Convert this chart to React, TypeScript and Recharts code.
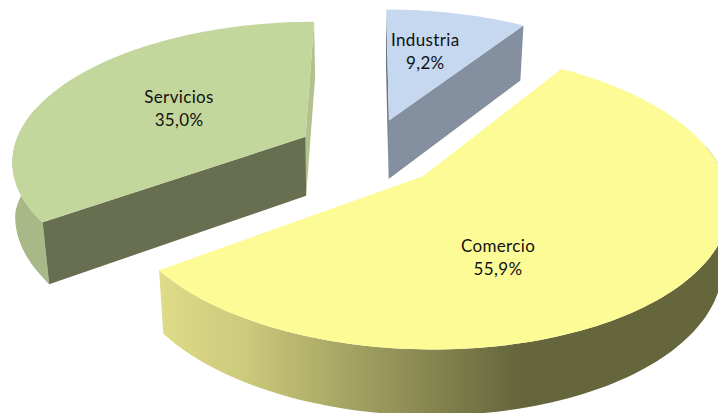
import React from 'react';
import { PieChart, Pie } from 'recharts';

const categories = ['Industria', 'Comercio', 'Servicios'];
const shares = [9.2, 55.9, 35.0];
const percentLabels = ['9,2%', '55,9%', '35,0%'];

const tableRows = categories.map((name, i) => ({ name, value: shares[i], text: percentLabels[i] }));

const W = 718;
const H = 413;
const CX = 369;
const CY = 152;
const OUTER = 293;
const UNIT = 279;
const VSCALE = 131;
const K = 0.15;
const EXPLODE = 0.26;
const WALL = 59.5;
const BOTTOM_SHRINK = 0.98;
const LABEL_RHO = 0.56;

const topColors: Record<string, string> = { Industria: '#C5D8F0', Comercio: '#FDFB96', Servicios: '#C3D69B' };
const rimColors: Record<string, string> = { Industria: '#A9B8CC', Comercio: 'url(#rimComercio)', Servicios: '#A8B886' };
const startFace: Record<string, string> = { Industria: '#6E7582', Comercio: 'none', Servicios: '#686F50' };
const endFace: Record<string, string> = { Industria: '#848F9F', Comercio: 'none', Servicios: '#B2C28E' };
const labelShift: Record<string, [number, number]> = { Industria: [-2, -9], Comercio: [-52, 24], Servicios: [3, 2] };

const rad = (d: number) => (d * Math.PI) / 180;

function project(u: number, v: number) {
  const w = 1 + K * v;
  return { x: CX + (UNIT * u) / w, y: CY - (VSCALE * v) / w, w, v };
}

function lower(p: { x: number; y: number; w: number; v: number }) {
  const shrink = BOTTOM_SHRINK + 0.014 * Math.max(0, 1 - Math.abs(p.v) / 0.45);
  return { x: CX + (p.x - CX) * shrink, y: p.y + WALL / Math.sqrt(p.w), w: p.w, v: p.v };
}

const toPath = (pts: { x: number; y: number }[]) =>
  'M' + pts.map((p) => `${p.x.toFixed(2)},${p.y.toFixed(2)}`).join('L') + 'Z';

function apexOf(mid: number) {
  return [EXPLODE * Math.cos(rad(mid)), EXPLODE * Math.sin(rad(mid))];
}

function Wedge(props: any) {
  const { startAngle, endAngle, midAngle, outerRadius, name } = props;
  const r = outerRadius / UNIT;
  const [ax, ay] = apexOf(midAngle);
  const apex = project(ax, ay);
  const n = Math.max(2, Math.ceil(Math.abs(endAngle - startAngle) / 1.5));
  const angles = Array.from({ length: n + 1 }, (_, i) => startAngle + ((endAngle - startAngle) * i) / n);
  const arc = angles.map((d) => project(ax + r * Math.cos(rad(d)), ay + r * Math.sin(rad(d))));
  const first = arc[0];
  const last = arc[arc.length - 1];
  let rimPath = '';
  for (let i = 0; i < n; i++) {
    if (Math.sin(rad(angles[i])) > 0.2 && Math.sin(rad(angles[i + 1])) > 0.2) continue;
    rimPath += toPath([arc[i], arc[i + 1], lower(arc[i + 1]), lower(arc[i])]);
  }
  const faceA = [apex, first, lower(first), lower(apex)];
  const faceB = [apex, last, lower(last), lower(apex)];
  return (
    <g>
      <defs>
        <linearGradient id="rimComercio" gradientUnits="userSpaceOnUse" x1={160} y1={0} x2={718} y2={0}>
          <stop offset="0" stopColor="#DEDC88" />
          <stop offset="0.15" stopColor="#CCCA7C" />
          <stop offset="0.64" stopColor="#66663C" />
          <stop offset="1" stopColor="#66663C" />
        </linearGradient>
      </defs>
      {rimPath && <path d={rimPath} fill={rimColors[name]} />}
      <path d={toPath(faceB)} fill={endFace[name]} />
      <path d={toPath(faceA)} fill={startFace[name]} />
      <path d={toPath([apex, ...arc])} fill={topColors[name]} />
    </g>
  );
}

function WedgeLabel(props: any) {
  const { midAngle, name, payload, outerRadius } = props;
  const [ax, ay] = apexOf(midAngle);
  const r = (outerRadius / UNIT) * LABEL_RHO / 1.05;
  const p = project(ax + r * Math.cos(rad(midAngle)), ay + r * Math.sin(rad(midAngle)));
  const [dx, dy] = labelShift[name];
  const x = p.x + dx;
  const y = p.y + dy;
  return (
    <text x={x} y={y} textAnchor="middle" fontFamily="Lato, sans-serif" fontSize={17} letterSpacing={0.35} fill="#111">
      <tspan x={x} y={y - 5}>{name}</tspan>
      <tspan x={x} y={y + 18}>{payload?.text}</tspan>
    </text>
  );
}

export default function App() {
  return (
    <div style={{ position: 'absolute', left: 0, top: 0, width: W, height: H, overflow: 'hidden', background: '#fff' }}>
      <PieChart width={W} height={H} margin={{ top: 0, right: 0, bottom: 0, left: 0 }}>
        <Pie
          data={tableRows}
          dataKey="value"
          nameKey="name"
          cx={CX}
          cy={CY}
          innerRadius={0}
          outerRadius={OUTER}
          startAngle={90}
          endAngle={-270}
          stroke="none"
          shape={Wedge}
          label={WedgeLabel}
          labelLine={false}
          isAnimationActive={false}
        />
      </PieChart>
    </div>
  );
}
